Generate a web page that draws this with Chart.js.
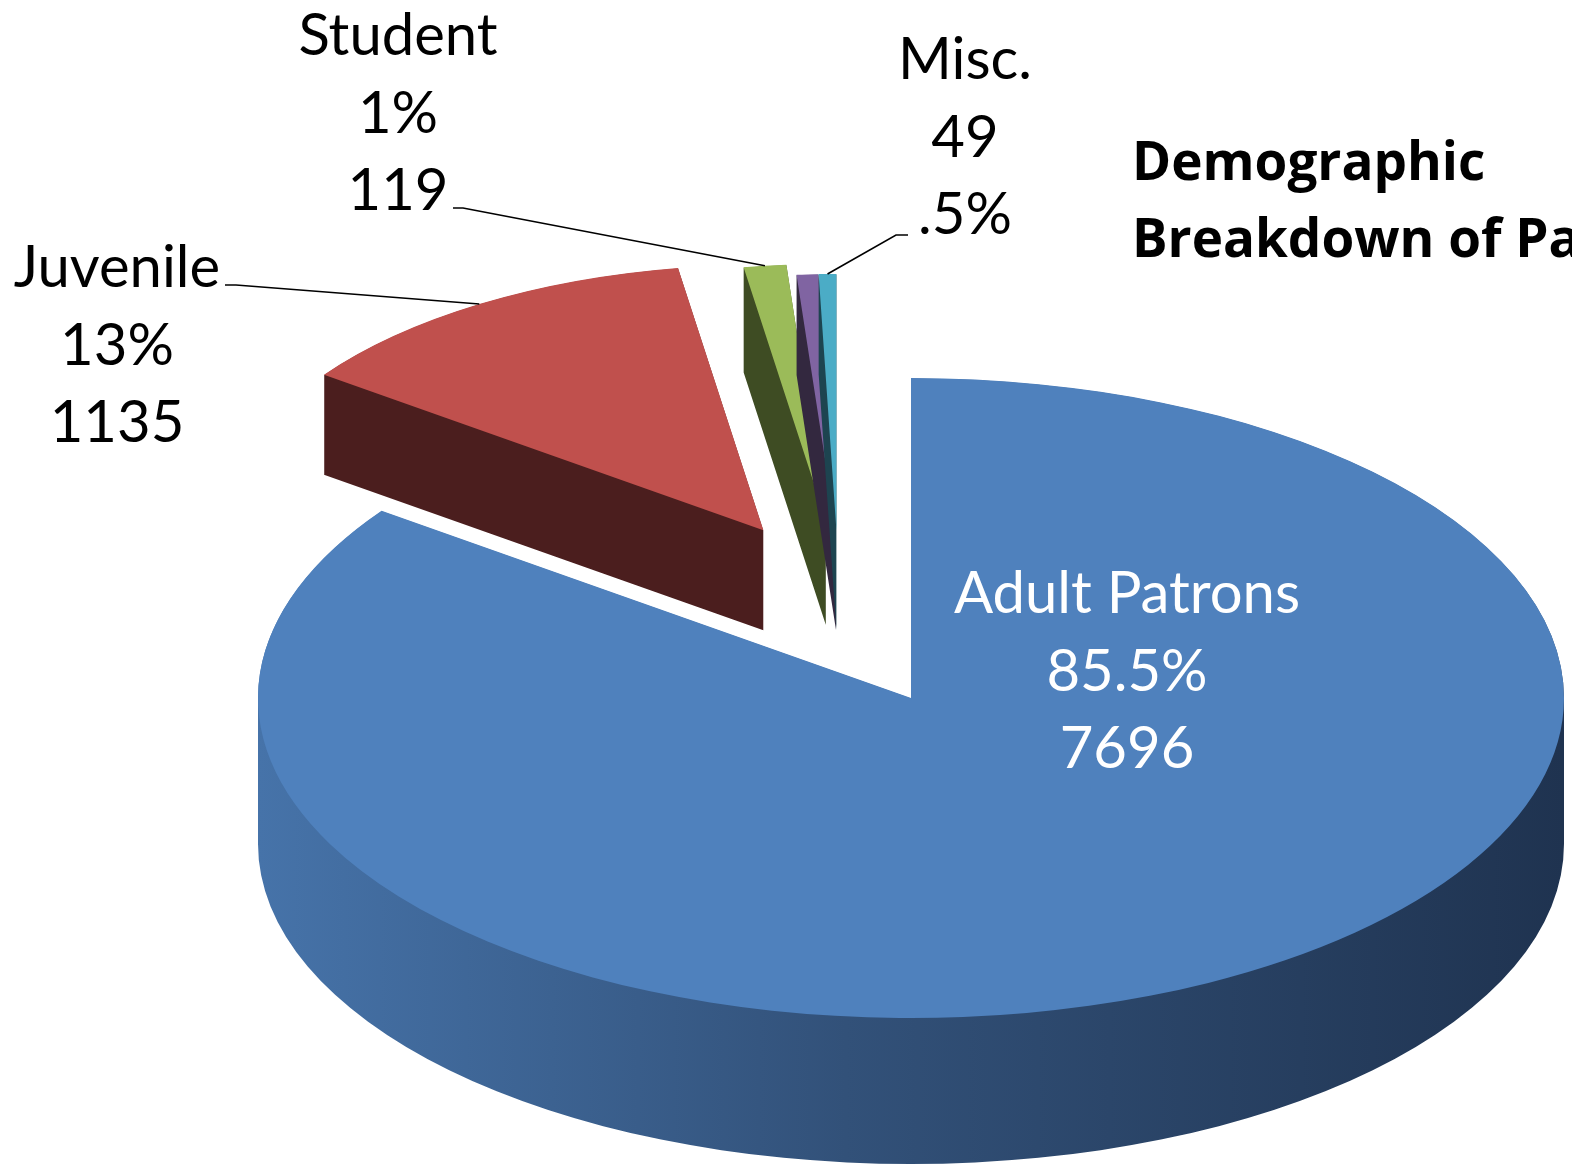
<!DOCTYPE html>
<html>
<head>
<meta charset="utf-8">
<script src="https://cdn.jsdelivr.net/npm/chart.js@4.4.1/dist/chart.umd.min.js"></script>
<style>
html,body{margin:0;padding:0;background:#ffffff;overflow:hidden}
#wrap{width:1572px;height:1169px;position:relative}
canvas{display:block}
</style>
</head>
<body>
<div id="wrap"><canvas id="c" width="1572" height="1169"></canvas></div>
<script>
// ---------------- data ----------------
const categories   = ['Adult Patrons', 'Juvenile', 'Student', '', 'Misc.'];
const patronCounts = [7696, 1135, 119, 60, 49];
const percentLabels = ['85.5%', '13%', '1%', '', '.5%'];
const titleLines   = ['Demographic', 'Breakdown of Patrons'];

// ---------------- styles / layout ----------------
const topColors  = ['#4f81bd', '#c0504d', '#9bbb59', '#8064a2', '#4bacc6'];
const sideColors = [null, '#4b1e1e', '#3e4c23', '#33283f', '#1d4450'];
const explodeDist = [0, 373, 373, 351, 351];
const explodeTurn = [0, 8.3, -6.5, -9.2, -11.3];   // degrees
const sliceScale  = [1, 0.83, 0.8, 0.8, 0.8];
const sliceDepth  = [146, 100, 105, 100, 100];
const drawOrder   = [1, 2, 3, 4, 0];
const CX = 911, CY = 698, K = 0.49;
const FONT = 'Lato, "Open Sans", sans-serif';
const TITLE_FONT = 'bold 53px "Open Sans", Lato, sans-serif';

// label blocks: which slice, anchor (center x, first baseline), line order, colour, leader
const labelBlocks = [
  { i: 0, x: 1127, y: 613, order: ['name', 'pct', 'count'], color: '#ffffff' },
  { i: 1, x: 117, y: 287, order: ['name', 'pct', 'count'], color: '#000000', leader: [[225, 285], [236, 285]] },
  { i: 2, x: 398, y: 55,  order: ['name', 'pct', 'count'], color: '#000000', leader: [[453, 208], [463, 208]] },
  { i: 4, x: 965, y: 79,  order: ['name', 'count', 'pct'], color: '#000000', leader: [[908, 235], [896, 235]] }
];
const LINE_GAP = 77.5;

function placeSlice(ctx, arc, i) {
  const p = arc.getProps(['x', 'y', 'startAngle', 'endAngle', 'outerRadius']);
  const mid = (p.startAngle + p.endAngle) / 2 + explodeTurn[i] * Math.PI / 180;
  const d = explodeDist[i];
  const s = sliceScale[i];
  ctx.translate(CX, CY);
  ctx.scale(1, K);
  ctx.translate(Math.cos(mid) * d, Math.sin(mid) * d);
  ctx.scale(s, s);
  ctx.translate(-p.x, -p.y);
  return p;
}

function rimPoint(arc, i) {
  const p = arc.getProps(['x', 'y', 'startAngle', 'endAngle', 'outerRadius']);
  const midE = (p.startAngle + p.endAngle) / 2 + explodeTurn[i] * Math.PI / 180;
  const mid = (p.startAngle + p.endAngle) / 2;
  const d = explodeDist[i], s = sliceScale[i];
  const ax = CX + Math.cos(midE) * d;
  const ay = CY + K * Math.sin(midE) * d;
  return [ax + s * p.outerRadius * Math.cos(mid), ay + K * s * p.outerRadius * Math.sin(mid)];
}

const pie3d = {
  id: 'pie3d',
  beforeDatasetsDraw(chart) {
    const ctx = chart.ctx;
    const meta = chart.getDatasetMeta(0);
    drawOrder.forEach(i => {
      const arc = meta.data[i];
      if (!arc) return;
      // side walls (extruded body)
      ctx.save();
      const p = placeSlice(ctx, arc, i);
      const s = sliceScale[i];
      const step = 0.5;
      ctx.beginPath();
      for (let dy = sliceDepth[i]; dy > 0; dy -= step) {
        const off = dy / (K * s);
        ctx.moveTo(p.x, p.y + off);
        ctx.arc(p.x, p.y + off, p.outerRadius, p.startAngle, p.endAngle);
        ctx.closePath();
      }
      if (sideColors[i]) {
        ctx.fillStyle = sideColors[i];
      } else {
        const g = ctx.createLinearGradient(p.x - p.outerRadius, 0, p.x + p.outerRadius, 0);
        g.addColorStop(0, '#4673a9');
        g.addColorStop(0.45, '#325179');
        g.addColorStop(1, '#1f3350');
        ctx.fillStyle = g;
      }
      ctx.fill();
      ctx.restore();
      // top face drawn by the library's arc element
      ctx.save();
      placeSlice(ctx, arc, i);
      arc.draw(ctx);
      ctx.restore();
    });
    return false;
  }
};

const labelPlugin = {
  id: 'labels3d',
  afterDraw(chart) {
    const ctx = chart.ctx;
    const meta = chart.getDatasetMeta(0);
    ctx.save();
    ctx.textAlign = 'center';
    ctx.textBaseline = 'alphabetic';
    ctx.font = '58px ' + FONT;
    labelBlocks.forEach(b => {
      const texts = {
        name: categories[b.i],
        pct: percentLabels[b.i],
        count: String(patronCounts[b.i])
      };
      ctx.fillStyle = b.color;
      b.order.forEach((k, j) => ctx.fillText(texts[k], b.x, b.y + j * LINE_GAP));
      if (b.leader) {
        const end = rimPoint(meta.data[b.i], b.i);
        ctx.strokeStyle = '#000000';
        ctx.lineWidth = 1.6;
        ctx.beginPath();
        ctx.moveTo(b.leader[0][0], b.leader[0][1]);
        ctx.lineTo(b.leader[1][0], b.leader[1][1]);
        ctx.lineTo(end[0], end[1]);
        ctx.stroke();
      }
    });
    // title
    ctx.textAlign = 'left';
    ctx.fillStyle = '#000000';
    ctx.font = TITLE_FONT;
    titleLines.forEach((t, j) => ctx.fillText(t, 1132, 180 + j * 77));
    ctx.restore();
  }
};

new Chart(document.getElementById('c').getContext('2d'), {
  type: 'pie',
  data: {
    labels: categories,
    datasets: [{
      data: patronCounts,
      backgroundColor: topColors,
      borderWidth: 0,
      radius: 653
    }]
  },
  options: {
    responsive: false,
    animation: false,
    devicePixelRatio: 1,
    events: [],
    plugins: {
      legend: { display: false },
      tooltip: { enabled: false },
      title: { display: false }
    }
  },
  plugins: [pie3d, labelPlugin]
});
</script>
</body>
</html>
